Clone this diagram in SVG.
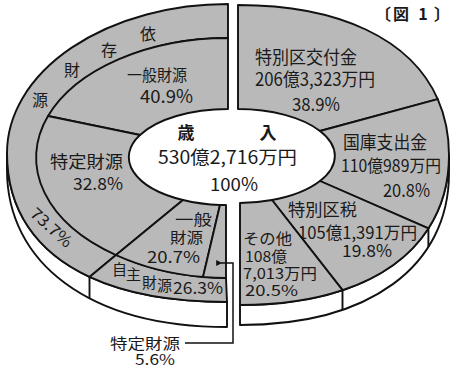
<svg xmlns="http://www.w3.org/2000/svg" width="450" height="369" viewBox="0 0 450 369">
<style>
.seg{fill:#b9b9b9;stroke:#111;stroke-width:1.9;stroke-linejoin:round}
.wall{fill:#fff;stroke:#111;stroke-width:1.9;stroke-linejoin:round}
.ln{fill:none;stroke:#111;stroke-width:1.9}
text{font-family:"Noto Sans CJK JP","Noto Sans",sans-serif;fill:#1a1a1a}
.t15{font-size:15px}
.t16{font-size:16px}
.t17{font-size:17px}
.t18{font-size:18px}
.b{font-weight:bold}
</style>
<defs>
<marker id="ah" viewBox="0 0 10 10" refX="2" refY="5" markerWidth="8" markerHeight="6" markerUnits="userSpaceOnUse" orient="auto">
<path d="M10,0 L0,5 L10,10 z" fill="#111"/>
</marker>
</defs>
<rect width="450" height="369" fill="#fff"/>

<!-- walls (side of the exploded pie) -->
<g id="wall-left">
<path class="wall" d="M7,153 C7,210 36.2,252.2 89.5,276.9 C125.1,293.4 171.4,302 227,302 L227,327 C88,327 7,262 7,170 Z"/>
<path class="ln" d="M89.5,277 V298"/>
</g>
<g id="wall-right">
<path class="wall" d="M449,155 C449,248 370,305 240,305 L240,325 C370,325 449,266 449,173 Z"/>
<path class="ln" d="M428.4,228.4 V247 M342.5,290.2 V310"/>
</g>

<!-- left half -->
<g id="izon">
<path class="seg" d="M228,4 A221,149 0 0 0 7,153 C7,210 36.2,252.2 89.5,276.9 L116,255 A192,120 0 0 1 228,38 Z"/>
<text class="t16" x="148" y="40" text-anchor="middle">依</text>
<text class="t16" x="109" y="56" text-anchor="middle">存</text>
<text class="t16" x="72" y="76" text-anchor="middle">財</text>
<text class="t16" x="40" y="106" text-anchor="middle">源</text>
<text class="t16" transform="translate(51,228) rotate(42)" x="0" y="5" text-anchor="middle" textLength="50" lengthAdjust="spacingAndGlyphs">73.7%</text>
</g>
<g id="jishu">
<path class="seg" d="M89.5,276.9 C125.1,293.4 171.4,302 227,302 L226,278 A192,120 0 0 1 116,255 Z"/>
<text class="t15" x="112" y="275">自</text>
<text class="t15" x="126" y="280">主</text>
<text class="t15" x="142" y="288">財</text>
<text class="t15" x="157" y="291">源</text>
<text class="t16" x="173" y="294" textLength="50" lengthAdjust="spacingAndGlyphs">26.3%</text>
</g>
<g id="ippan-izon">
<path class="seg" d="M228,38 A192,120 0 0 0 48,116 L140,135 A99,48 0 0 1 228,109 Z"/>
<text class="t16" x="127" y="81" textLength="60" lengthAdjust="spacingAndGlyphs">一般財源</text>
<text class="t18" x="140" y="103" textLength="53" lengthAdjust="spacingAndGlyphs">40.9%</text>
</g>
<g id="tokutei-izon">
<path class="seg" d="M48,116 A192,120 0 0 0 116,255 L183,200 A99,48 0 0 1 140,135 Z"/>
<text class="t17" x="50" y="168" textLength="73" lengthAdjust="spacingAndGlyphs">特定財源</text>
<text class="t17" x="73" y="190" textLength="50" lengthAdjust="spacingAndGlyphs">32.8%</text>
</g>
<g id="ippan-jishu">
<path class="seg" d="M116,255 A192,120 0 0 0 203,277 L220,205 A99,48 0 0 1 183,200 Z"/>
<text class="t15" x="175" y="225" textLength="37" lengthAdjust="spacingAndGlyphs">一般</text>
<text class="t15" x="170" y="243" textLength="33" lengthAdjust="spacingAndGlyphs">財源</text>
<text class="t16" x="147" y="263" textLength="53" lengthAdjust="spacingAndGlyphs">20.7%</text>
</g>
<g id="tokutei-jishu">
<path class="seg" d="M203,277 A192,120 0 0 0 226,278 L226,205 L220,205 Z"/>
</g>

<!-- right half -->
<g id="kofukin">
<path class="seg" d="M238,5 C340.18,5 411.43,39.68 437.74,99.08 L320,131 A97,47 0 0 0 238,109 Z"/>
<text class="t18" x="255" y="64" textLength="102" lengthAdjust="spacingAndGlyphs">特別区交付金</text>
<text class="t18" x="255" y="86" textLength="120" lengthAdjust="spacingAndGlyphs">206億3,323万円</text>
<text class="t18" x="292" y="111" textLength="48" lengthAdjust="spacingAndGlyphs">38.9%</text>
</g>
<g id="kokko">
<path class="seg" d="M437.74,99.08 C445.13,115.82 449,134.54 449,155 C449,182.9 441.89,207.56 428.43,228.41 L320,181 A97,47 0 0 0 320,131 Z"/>
<text class="t18" x="343" y="149" textLength="84" lengthAdjust="spacingAndGlyphs">国庫支出金</text>
<text class="t17" x="341" y="172" textLength="100" lengthAdjust="spacingAndGlyphs">110億989万円</text>
<text class="t18" x="383" y="197" textLength="47" lengthAdjust="spacingAndGlyphs">20.8%</text>
</g>
<g id="kuzei">
<path class="seg" d="M428.43,228.41 C410.48,256.21 381.32,277.25 342.53,290.18 L272,200 A97,47 0 0 0 320,181 Z"/>
<text class="t17" x="288" y="216" textLength="69" lengthAdjust="spacingAndGlyphs">特別区税</text>
<text class="t17" x="298" y="238.5" textLength="119" lengthAdjust="spacingAndGlyphs">105億1,391万円</text>
<text class="t17" x="342" y="257" textLength="50" lengthAdjust="spacingAndGlyphs">19.8%</text>
</g>
<g id="sonota">
<path class="seg" d="M342.53,290.18 C313.42,299.87 279,305 240,305 L240,203 A97,47 0 0 0 272,200 Z"/>
<text class="t15" x="243" y="244" textLength="49" lengthAdjust="spacingAndGlyphs">その他</text>
<text class="t15" x="245" y="262" textLength="42" lengthAdjust="spacingAndGlyphs">108億</text>
<text class="t15" x="243" y="279" textLength="74" lengthAdjust="spacingAndGlyphs">7,013万円</text>
<text class="t15" x="245" y="296" textLength="53" lengthAdjust="spacingAndGlyphs">20.5%</text>
</g>

<!-- centre -->
<g id="sainyu">
<text class="t17 b" x="186" y="139" text-anchor="middle">歳</text>
<text class="t17 b" x="268" y="139" text-anchor="middle">入</text>
<text class="t18" x="158" y="164" textLength="139" lengthAdjust="spacingAndGlyphs">530億2,716万円</text>
<text class="t18" x="210" y="191" textLength="48" lengthAdjust="spacingAndGlyphs">100%</text>
</g>

<!-- leader -->
<g id="connectors">
<path d="M185,343 H233 V263 H221" fill="none" stroke="#111" stroke-width="1.5" marker-end="url(#ah)"/>
</g>
<g id="label-tokutei">
<text class="t15" x="110" y="349" textLength="70" lengthAdjust="spacingAndGlyphs">特定財源</text>
<text class="t15" x="135" y="365" textLength="40" lengthAdjust="spacingAndGlyphs">5.6%</text>
</g>

<g id="title">
<text class="t16 b" x="375" y="20">〔</text>
<text class="t16 b" x="401" y="20" text-anchor="middle">図</text>
<text class="t16 b" x="423" y="20" text-anchor="middle">1</text>
<text class="t16 b" x="434" y="20">〕</text>
</g>
</svg>
